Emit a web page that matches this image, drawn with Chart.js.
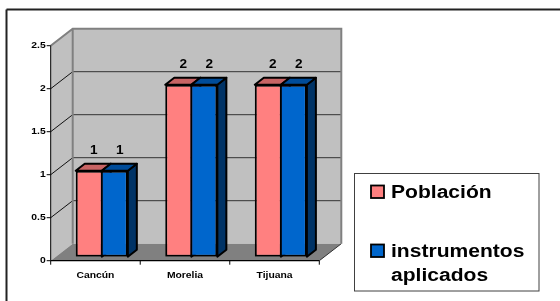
<!DOCTYPE html>
<html>
<head>
<meta charset="utf-8">
<script src="https://cdn.jsdelivr.net/npm/chart.js@4/dist/chart.umd.min.js"></script>
<style>
    body { margin: 0; background: #fff; }
</style>
</head>
<body>
<canvas id="grafica" width="560" height="301"></canvas>
<script>
// ---------------------------------------------------------------------------- D A T O S
const categorias = ['Cancún', 'Morelia', 'Tijuana'];
const poblacion = [1, 2, 2];
const instrumentos = [1, 2, 2];
const nombresSeries = ['Población', 'instrumentos aplicados'];
const ticksY = [0, 0.5, 1, 1.5, 2, 2.5];

// ---------------------------------------------------------------------------- 3 D
// plano de las barras -> plano frontal del eje
const FX = -6.3, FY = 4;
// profundidad de las paredes (frente -> fondo)
const PX = 22, PY = -17;
// profundidad de cada barra
const BX = 9, BY = -7;
const FUENTE = '"Liberation Sans", Arial, sans-serif';

const caras = [
    { frente: '#FF8080', arriba: '#C86464', lado: '#B05050' },
    { frente: '#0066CC', arriba: '#004C99', lado: '#003366' }
];

const texto = (ctx, s, x, y, px, align, sx, base) => {
    ctx.save();
    ctx.translate(x, y);
    ctx.scale(sx, 1);
    ctx.font = `bold ${px}px ${FUENTE}`;
    ctx.fillStyle = '#000';
    ctx.textAlign = align;
    ctx.textBaseline = base || 'middle';
    ctx.fillText(s, 0, 0);
    ctx.restore();
}

const poligono = (ctx, pts, fill, stroke, lw) => {
    ctx.beginPath();
    ctx.moveTo(pts[0][0], pts[0][1]);
    for (let i = 1; i < pts.length; i++) ctx.lineTo(pts[i][0], pts[i][1]);
    ctx.closePath();
    if (fill) { ctx.fillStyle = fill; ctx.fill(); }
    if (stroke) { ctx.strokeStyle = stroke; ctx.lineWidth = lw || 1; ctx.lineJoin = 'round'; ctx.stroke(); }
}

const linea = (ctx, x1, y1, x2, y2, color, lw) => {
    ctx.beginPath();
    ctx.moveTo(x1, y1);
    ctx.lineTo(x2, y2);
    ctx.strokeStyle = color;
    ctx.lineWidth = lw;
    ctx.stroke();
}

const fondo3d = {
    id: 'fondo3d',
    beforeDatasetsDraw(chart) {
        const ctx = chart.ctx;
        const xs = chart.scales.x, ys = chart.scales.y;
        const a = chart.chartArea;
        // esquinas del plano frontal
        const x0 = a.left + FX, x1 = a.right + FX;
        const yF = v => ys.getPixelForValue(v) + FY;
        const yTop = yF(ticksY[ticksY.length - 1]), yCero = yF(0);
        ctx.save();

        // marco exterior
        linea(ctx, 6.5, 9.5, 560, 9.5, '#222', 2);
        linea(ctx, 6.5, 9.5, 6.5, 301, '#222', 2);

        // pared izquierda
        poligono(ctx, [[x0, yTop], [x0 + PX, yTop + PY], [x0 + PX, yCero + PY], [x0, yCero]], '#C0C0C0');
        // pared del fondo
        ctx.fillStyle = '#C0C0C0';
        ctx.fillRect(x0 + PX, yTop + PY, x1 - x0, yCero - yTop);
        // piso
        poligono(ctx, [[x0, yCero], [x1, yCero], [x1 + PX, yCero + PY], [x0 + PX, yCero + PY]], '#808080');
        linea(ctx, x1, yCero, x1 + PX, yCero + PY, '#333', 1);

        // rejilla
        ticksY.slice(1, -1).forEach(v => {
            const y = yF(v);
            linea(ctx, x0, y, x0 + PX, y + PY, '#111', 1);
            linea(ctx, x0 + PX, y + PY, x1 + PX, y + PY, '#333', 1);
        });

        // bordes grises de las paredes
        ctx.strokeStyle = '#808080';
        ctx.lineWidth = 2;
        ctx.beginPath();
        ctx.moveTo(x0, yTop);
        ctx.lineTo(x0 + PX, yTop + PY);
        ctx.lineTo(x1 + PX, yTop + PY);
        ctx.lineTo(x1 + PX, yCero + PY);
        ctx.moveTo(x0 + PX, yTop + PY);
        ctx.lineTo(x0 + PX, yCero + PY);
        ctx.stroke();

        // eje Y
        linea(ctx, x0, yTop, x0, yCero, '#000', 1);
        ticksY.forEach(v => {
            const y = yF(v);
            linea(ctx, x0 - 4, y, x0, y, '#000', 1);
            texto(ctx, String(v), x0 - 5, y, 9, 'right', 1.15);
        });

        // eje X
        linea(ctx, x0, yCero, x1, yCero, '#000', 1.2);
        const paso = (x1 - x0) / categorias.length;
        for (let i = 0; i <= categorias.length; i++) {
            const x = x0 + paso * i;
            linea(ctx, x, yCero, x, yCero + 4, '#000', 1);
        }
        categorias.forEach((c, i) => {
            texto(ctx, c, xs.getPixelForValue(i) + FX, yCero + 14.5, 9, 'center', 1.15);
        });

        // caras de arriba y de lado de las barras (detras del frente)
        chart.data.datasets.forEach((ds, d) => {
            const meta = chart.getDatasetMeta(d);
            meta.data.forEach(bar => {
                const l = bar.x - bar.width / 2, r = bar.x + bar.width / 2;
                const t = bar.y, b = bar.base;
                poligono(ctx, [[r, t], [r + BX, t + BY], [r + BX, b + BY], [r, b]], caras[d].lado, '#000', 2);
                poligono(ctx, [[l, t], [l + BX, t + BY], [r + BX, t + BY], [r, t]], caras[d].arriba, '#000', 2);
            });
        });
        ctx.restore();
    },
    afterDatasetsDraw(chart) {
        const ctx = chart.ctx;
        ctx.save();
        // etiquetas de datos
        chart.data.datasets.forEach((ds, d) => {
            chart.getDatasetMeta(d).data.forEach((bar, i) => {
                texto(ctx, String(ds.data[i]), bar.x + 5, bar.y - 20.5, 13, 'center', 1.05);
            });
        });

        // leyenda
        ctx.fillStyle = '#fff';
        ctx.fillRect(354.5, 173.5, 184.5, 117.5);
        ctx.strokeStyle = '#404040';
        ctx.lineWidth = 1;
        ctx.strokeRect(354.5, 173.5, 184.5, 117.5);
        const filas = [[nombresSeries[0]], ['instrumentos', 'aplicados']];
        const ys0 = [185.5, 244.5];
        filas.forEach((lineas, k) => {
            ctx.fillStyle = caras[k].frente;
            ctx.fillRect(371, ys0[k], 13, 12.5);
            ctx.strokeStyle = '#000';
            ctx.lineWidth = 1.8;
            ctx.strokeRect(371, ys0[k], 13, 12.5);
            lineas.forEach((s, j) => {
                texto(ctx, s, 391, ys0[k] + 12.3 + j * 24, 18, 'left', 1.17, 'alphabetic');
            });
        });
        ctx.restore();
    }
};

// ---------------------------------------------------------------------------- G R A F I C A
const ctx = document.getElementById('grafica').getContext('2d');
const grafica = new Chart(ctx, {
    type: 'bar',
    data: {
        labels: categorias,
        datasets: [
            {
                label: nombresSeries[0],
                data: poblacion,
                backgroundColor: caras[0].frente,
                borderColor: '#000',
                borderWidth: { left: 2, right: 1, top: 2, bottom: 2 },
                borderSkipped: false
            },
            {
                label: nombresSeries[1],
                data: instrumentos,
                backgroundColor: caras[1].frente,
                borderColor: '#000',
                borderWidth: { left: 1, right: 2, top: 2, bottom: 2 },
                borderSkipped: false
            }
        ]
    },
    options: {
        responsive: false,
        animation: false,
        categoryPercentage: 0.582,
        barPercentage: 1,
        layout: {
            padding: { left: 57, right: 234.4, top: 41.7, bottom: 44.3 }
        },
        scales: {
            x: { display: false },
            y: { display: false, min: 0, max: 2.5 }
        },
        plugins: {
            legend: { display: false },
            tooltip: { enabled: false }
        }
    },
    plugins: [fondo3d]
});
</script>
</body>
</html>
